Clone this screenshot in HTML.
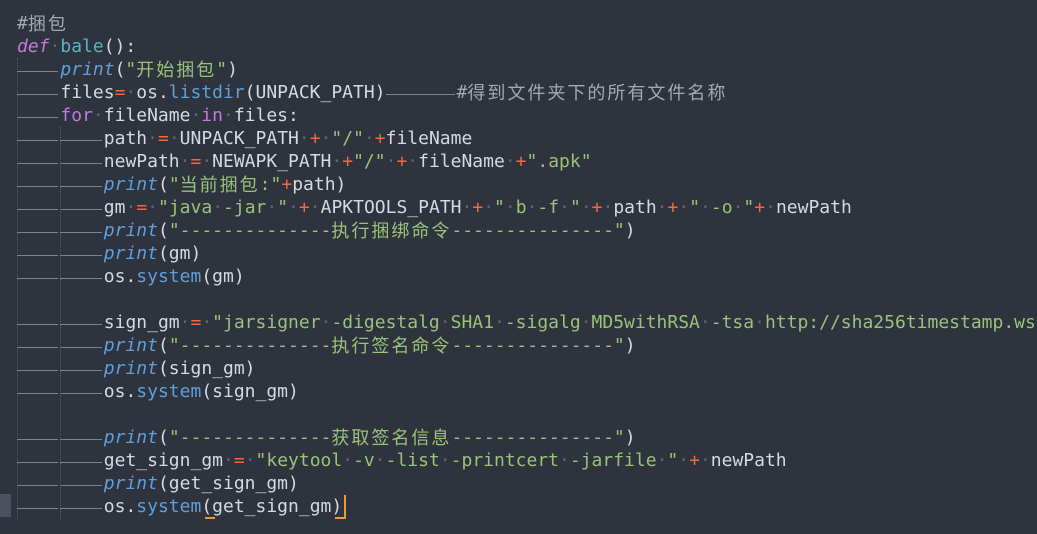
<!DOCTYPE html>
<html><head><meta charset="utf-8"><style>
html,body{margin:0;padding:0;}
body{width:1037px;height:534px;background:#2e333d;overflow:hidden;position:relative;font-family:"DejaVu Sans Mono","Liberation Mono","Noto Sans CJK SC",monospace;font-size:18px;color:#d5d9e0;}
.code{position:absolute;left:17px;top:12px;width:1020px;height:520px;overflow:hidden;}
.l{display:block;height:23px;line-height:23px;white-space:pre;overflow:visible;}
.t{display:inline-block;width:43.4px;height:23px;vertical-align:top;position:relative;}
.t:after{content:"";position:absolute;left:0;right:2px;top:13px;border-top:1px solid #7d828c;}
b{font-weight:normal;color:#5f6672;}
.o{color:#ef6a43;}
.s{color:#98c379;}
.p{color:#5e9fdc;font-style:italic;}
.f{color:#5e9fdc;}
.k{color:#c678dd;}
.ki{color:#c678dd;font-style:italic;}
.n{color:#56b6c2;}
.c{color:#a3a9b3;}
.z{font-family:"Noto Sans CJK SC",sans-serif;letter-spacing:2px;font-size:18px;line-height:23px;display:inline-block;height:23px;vertical-align:top;}
.g{position:absolute;width:0;border-left:1px dotted #545a66;}
</style></head><body>
<div class="g" style="left:17px;top:58px;height:462px"></div>
<div class="g" style="left:60px;top:127px;height:393px"></div>
<div style="position:absolute;left:0;top:494px;width:11px;height:23px;background:#4a5260"></div>
<div style="position:absolute;left:344px;top:495px;width:2px;height:24px;background:#e8993d"></div>
<div style="position:absolute;left:205px;top:517px;width:10px;height:2px;background:#e8993d"></div>
<div style="position:absolute;left:335px;top:517px;width:10px;height:2px;background:#e8993d"></div>
<div class="code"><div class="l"><span class="c">#<span class="z">捆包</span></span></div><div class="l"><span class="ki">def</span><b>·</b><span class="n">bale</span>():</div><div class="l"><i class="t"></i><span class="p">print</span>(<span class="s">"<span class="z">开始捆包</span>"</span>)</div><div class="l"><i class="t"></i>files<span class="o">=</span><b>·</b>os.<span class="f">listdir</span>(UNPACK_PATH)<i class="t" style="width:71px"></i><span class="c">#<span class="z">得到文件夹下的所有文件名称</span></span></div><div class="l"><i class="t"></i><span class="k">for</span><b>·</b>fileName<b>·</b><span class="k">in</span><b>·</b>files:</div><div class="l"><i class="t"></i><i class="t"></i>path<b>·</b><span class="o">=</span><b>·</b>UNPACK_PATH<b>·</b><span class="o">+</span><b>·</b><span class="s">"/"</span><b>·</b><span class="o">+</span>fileName</div><div class="l"><i class="t"></i><i class="t"></i>newPath<b>·</b><span class="o">=</span><b>·</b>NEWAPK_PATH<b>·</b><span class="o">+</span><span class="s">"/"</span><b>·</b><span class="o">+</span><b>·</b>fileName<b>·</b><span class="o">+</span><span class="s">".apk"</span></div><div class="l"><i class="t"></i><i class="t"></i><span class="p">print</span>(<span class="s">"<span class="z">当前捆包</span>:"</span><span class="o">+</span>path)</div><div class="l"><i class="t"></i><i class="t"></i>gm<b>·</b><span class="o">=</span><b>·</b><span class="s">"java<b>·</b>-jar<b>·</b>"</span><b>·</b><span class="o">+</span><b>·</b>APKTOOLS_PATH<b>·</b><span class="o">+</span><b>·</b><span class="s">"<b>·</b>b<b>·</b>-f<b>·</b>"</span><b>·</b><span class="o">+</span><b>·</b>path<b>·</b><span class="o">+</span><b>·</b><span class="s">"<b>·</b>-o<b>·</b>"</span><span class="o">+</span><b>·</b>newPath</div><div class="l"><i class="t"></i><i class="t"></i><span class="p">print</span>(<span class="s">"--------------<span class="z">执行捆绑命令</span>---------------"</span>)</div><div class="l"><i class="t"></i><i class="t"></i><span class="p">print</span>(gm)</div><div class="l"><i class="t"></i><i class="t"></i>os.<span class="f">system</span>(gm)</div><div class="l"> </div><div class="l"><i class="t"></i><i class="t"></i>sign_gm<b>·</b><span class="o">=</span><b>·</b><span class="s">"jarsigner<b>·</b>-digestalg<b>·</b>SHA1<b>·</b>-sigalg<b>·</b>MD5withRSA<b>·</b>-tsa<b>·</b>http://sha256timestamp.ws.symantec.com/sha256/timestamp"</span></div><div class="l"><i class="t"></i><i class="t"></i><span class="p">print</span>(<span class="s">"--------------<span class="z">执行签名命令</span>---------------"</span>)</div><div class="l"><i class="t"></i><i class="t"></i><span class="p">print</span>(sign_gm)</div><div class="l"><i class="t"></i><i class="t"></i>os.<span class="f">system</span>(sign_gm)</div><div class="l"> </div><div class="l"><i class="t"></i><i class="t"></i><span class="p">print</span>(<span class="s">"--------------<span class="z">获取签名信息</span>---------------"</span>)</div><div class="l"><i class="t"></i><i class="t"></i>get_sign_gm<b>·</b><span class="o">=</span><b>·</b><span class="s">"keytool<b>·</b>-v<b>·</b>-list<b>·</b>-printcert<b>·</b>-jarfile<b>·</b>"</span><b>·</b><span class="o">+</span><b>·</b>newPath</div><div class="l"><i class="t"></i><i class="t"></i><span class="p">print</span>(get_sign_gm)</div><div class="l"><i class="t"></i><i class="t"></i>os.<span class="f">system</span>(get_sign_gm)</div></div>
</body></html>
